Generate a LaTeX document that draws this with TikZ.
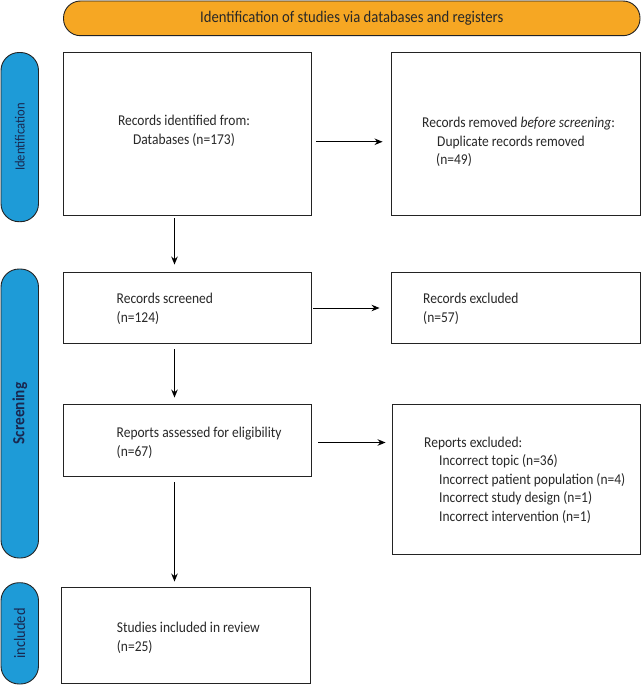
\documentclass[tikz,border=0pt]{standalone}
\usepackage{fontspec}
\setmainfont[FakeStretch=0.9]{Carlito}
\usetikzlibrary{arrows.meta}
\definecolor{bannerorange}{RGB}{246,167,35}
\definecolor{phaseblue}{RGB}{30,155,215}
\definecolor{phasetext}{RGB}{25,40,80}
\definecolor{edgecol}{RGB}{35,35,35}
\definecolor{txtcol}{RGB}{40,40,40}
\begin{document}
\begin{tikzpicture}[x=1pt,y=-1pt,
  box/.style={draw=edgecol, line width=0.9pt, fill=white, inner sep=0pt},
  phase/.style={draw=edgecol, line width=0.9pt, fill=phaseblue, rounded corners=18pt, inner sep=0pt, minimum width=37.5pt},
  phaselabel/.style={text=phasetext, rotate=90},
  txt/.style={text=txtcol, inner sep=0pt, align=left, anchor=west, font=\fontsize{15}{18.5}\selectfont},
  flow/.style={draw=black, line width=1pt, -{Stealth[length=8pt,width=6.5pt]}}]
\useasboundingbox (0,0) rectangle (641,685);

% banner
\node[draw=edgecol, line width=0.9pt, fill=bannerorange, rounded corners=17pt, minimum width=576.5pt, minimum height=34.7pt, inner sep=0pt,
  font=\fontsize{16.3}{18}\selectfont, text=txtcol] (banner) at (351.75,18.35) {Identification of studies via databases and registers};

% phase bars
\node[phase, minimum height=169.2pt] (pid) at (19.75,137.1) {};
\node[phaselabel, font=\fontsize{14}{16}\selectfont] (pidl) at (pid.center) {Identification};
\node[phase, minimum height=289pt] (pscr) at (19.75,413.5) {};
\node[phaselabel, font=\fontsize{17}{18}\selectfont\bfseries] (pscrl) at (pscr.center) {Screening};
\node[phase, minimum height=101.3pt] (pinc) at (19.75,633.35) {};
\node[phaselabel, font=\fontsize{16}{18}\selectfont] (pincl) at (pinc.center) {included};

% boxes
\node[box, minimum width=248pt, minimum height=162.5pt] (b1) at (187.5,133.75) {};
\node[box, minimum width=249pt, minimum height=162.5pt] (b2) at (515.5,133.75) {};
\node[box, minimum width=248pt, minimum height=71pt] (b3) at (187.5,308) {};
\node[box, minimum width=249pt, minimum height=71pt] (b4) at (515.5,308) {};
\node[box, minimum width=248pt, minimum height=72pt] (b5) at (187.5,440) {};
\node[box, minimum width=247.3pt, minimum height=149.5pt] (b6) at (516.35,479.25) {};
\node[box, minimum width=248.3pt, minimum height=96pt] (b7) at (185.85,635) {};

% texts
\node[txt, anchor=center, align=center] (t1) at (184,131) {Records identified from:\\Databases (n=173)};
\node[txt] (t2) at (422,142) {Records removed \textit{before screening}:\\\hspace*{15pt}Duplicate records removed\\\hspace*{14pt}(n=49)};
\node[txt] (t3) at (116.5,309) {Records screened\\(n=124)};
\node[txt] (t4) at (423,309) {Records excluded\\(n=57)};
\node[txt] (t5) at (116.5,443) {Reports assessed for eligibility\\(n=67)};
\node[txt] (t6) at (424,480) {Reports excluded:\\\hspace*{15pt}Incorrect topic (n=36)\\\hspace*{15pt}Incorrect patient population (n=4)\\\hspace*{15pt}Incorrect study design (n=1)\\\hspace*{15pt}Incorrect intervention (n=1)};
\node[txt] (t7) at (116.7,638) {Studies included in review\\(n=25)};

% connectors
\draw[flow, shorten <=4pt, shorten >=8pt] ([yshift=-8pt]b1.east) -- ([yshift=-8pt]b2.west);
\draw[flow, shorten <=1.3pt, shorten >=11pt] (b3.east) -- (b4.west);
\draw[flow, shorten <=6.5pt, shorten >=6.7pt] ([yshift=-2.5pt]b5.east) -- ([yshift=-2.5pt]b5.east -| b6.west);
\draw[flow, shorten <=3pt, shorten >=7.5pt] ([xshift=-13pt]b1.south) -- ([xshift=-13pt]b3.north);
\draw[flow, shorten <=5.5pt, shorten >=6pt] ([xshift=-13pt]b3.south) -- ([xshift=-13pt]b5.north);
\draw[flow, shorten <=6pt, shorten >=5pt] ([xshift=-13pt]b5.south) -- ([xshift=-13pt]b5.south |- b7.north);
\end{tikzpicture}
\end{document}
